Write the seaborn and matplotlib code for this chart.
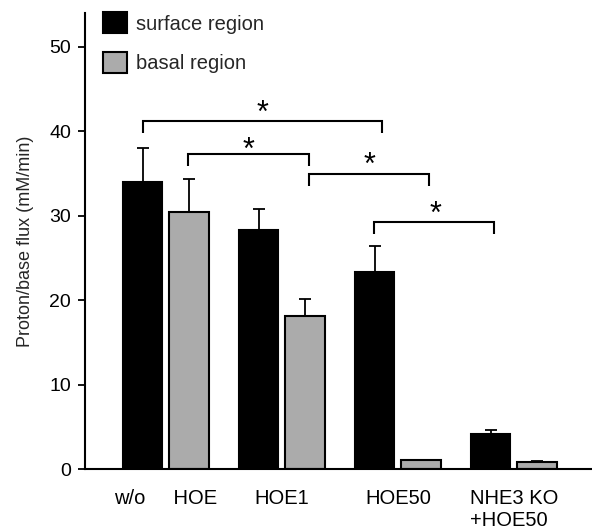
import numpy as np
import pandas as pd
import matplotlib
matplotlib.use("Agg")
import matplotlib.pyplot as plt
import matplotlib.transforms as mtransforms
import seaborn as sns

# ---- data ----
groups = ["w/o     HOE", "HOE1", "HOE50", "NHE3 KO\n+HOE50"]
regions = ["surface region", "basal region"]
surface_vals = [34.0, 28.3, 23.4, 4.2]
surface_err = [4.0, 2.5, 3.0, 0.45]
basal_vals = [30.5, 18.1, 1.05, 0.85]
basal_err = [3.9, 2.0, 0.05, 0.15]
y_ticks = [0, 10, 20, 30, 40, 50]
y_label = "Proton/base flux (mM/min)"
sig_label = "*"

df = pd.DataFrame({
    "group": groups * 2,
    "region": [regions[0]] * len(groups) + [regions[1]] * len(groups),
    "flux": surface_vals + basal_vals,
})
errs = surface_err + basal_err

sns.set_theme(style="white")
plt.rcParams["font.family"] = ["Liberation Sans", "DejaVu Sans"]

W, H = 592, 531
fig = plt.figure(figsize=(W / 100, H / 100), dpi=100)
ax = fig.add_axes([85 / W, 61.7 / H, (W - 85) / W, (469.3 - 13) / H])

sns.barplot(data=df, x="group", y="flux", hue="region", order=groups,
            hue_order=regions, palette=["black", "#ababab"],
            edgecolor="black", linewidth=1.5, width=0.8, gap=0.15,
            errorbar=None, ax=ax, saturation=1)

# error bars (upper only) at each bar's center
bars = [b for c in ax.containers for b in c]
for b, e in zip(bars, errs):
    xc = b.get_x() + b.get_width() / 2
    h = b.get_height()
    ax.errorbar([xc], [h], yerr=[[0], [e]], fmt="none", ecolor="black",
                elinewidth=1.3, capsize=4.5, capthick=1.3, zorder=1)

ax.set_xlim(-0.697, 3.673)
ax.set_ylim(0, 54)
ax.set_yticks(y_ticks)
ax.set_xlabel("")
ax.set_ylabel(y_label, fontsize=13, labelpad=11)
sns.despine(ax=ax)
for s in ["left", "bottom"]:
    ax.spines[s].set_linewidth(1.5)
    ax.spines[s].set_color("black")
ax.tick_params(axis="y", left=True, length=5, width=1.3, pad=5,
               labelsize=14, colors="black")
ax.tick_params(axis="x", length=0, pad=14, labelsize=14.5, colors="black")
for t in ax.get_xticklabels():
    t.set_multialignment("left")

# significance brackets: (x_start, x_end, y_top, star_x, star_y)
brackets = [
    (-0.20, 1.86, 41.2, 0.837, 42.8),
    (0.193, 1.234, 37.3, 0.708, 38.5),
    (1.234, 2.268, 34.96, 1.753, 36.7),
    (1.794, 2.831, 29.25, 2.32, 30.9),
]
drop = 1.46
fs_star = 22
star_tr = mtransforms.offset_copy(ax.transData, fig=fig, y=-0.48 * fs_star, units="points")
for x1, x2, yt, sx, sy in brackets:
    ax.plot([x1, x1, x2, x2], [yt - drop, yt, yt, yt - drop], color="black",
            lw=1.5, solid_capstyle="butt", solid_joinstyle="miter", clip_on=False)
    ax.text(sx, sy, sig_label, ha="center", va="baseline", fontsize=fs_star,
            transform=star_tr, color="black")

# legend
handles, labels = ax.get_legend_handles_labels()
ax.legend(handles, labels, loc="upper left",
          bbox_to_anchor=(102.7 / W, 1 - 12.5 / H), bbox_transform=fig.transFigure,
          frameon=False, fontsize=14.5, handlelength=1.22, handleheight=1.22,
          handletextpad=0.42, labelspacing=0.9, borderpad=0, borderaxespad=0)

fig.savefig("out.png", dpi=100, facecolor="white")
